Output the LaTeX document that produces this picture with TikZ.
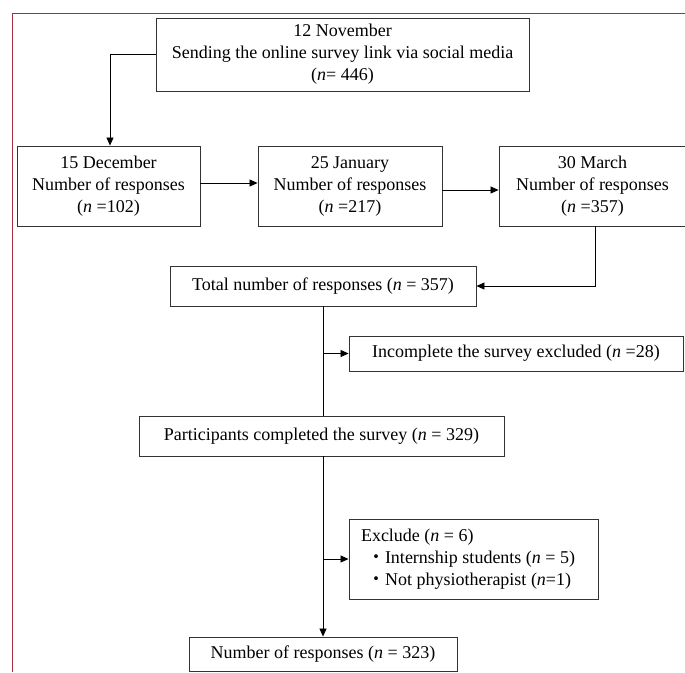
\documentclass[tikz,border=0pt]{standalone}
\usepackage{fontspec}
\setmainfont{Liberation Serif}
\newfontfamily\cjk{Noto Sans CJK JP}
\usepackage{xcolor}
\usetikzlibrary{arrows.meta,calc}
\definecolor{framered}{RGB}{170,45,60}

\begin{document}
\begin{tikzpicture}[x=1pt,y=-1pt]
  \tikzset{box/.style = {draw=black!80, line width=0.9pt, align=center, inner sep=0pt, font=\fontsize{18}{22}\selectfont}}
  \tikzset{edge/.style = {-{Triangle[length=8pt,width=7pt]}, line width=0.8pt}}
  \tikzset{line/.style = {line width=0.8pt}}

  \useasboundingbox (0,0) rectangle (685,672);
  \draw[framered, line width=1pt] (12,672) -- (12,13) -- (685,13);

  % boxes
  \node[box, minimum width=373, minimum height=73] (nov) at (342.5,54.5)
    {12 November\\Sending the online survey link via social media\\(\textit{n}= 446)};
  \foreach \nm/\x/\w/\dt/\cnt in {dec/108.5/183/15 December/102, jan/350/184/25 January/217, mar/592.5/187/30 March/357}
  {
    \node[box, minimum width=\w, minimum height=80] (\nm) at (\x,186) {\dt\\Number of responses\\(\textit{n} =\cnt)};
  }
  \node[box, minimum width=306, minimum height=40] (total) at (323,286) {Total number of responses (\textit{n} = 357)};
  \node[box, minimum width=334, minimum height=35] (incompl) at (516,353.5) {Incomplete the survey excluded (\textit{n} =28)};
  \node[box, minimum width=365, minimum height=40] (partic) at (321.5,436) {Participants completed the survey (\textit{n} = 329)};
  \node[box, minimum width=249, minimum height=80, text width=225, align=flush left] (excl) at (473.5,559)
    {Exclude (\textit{n} = 6)\\\hspace*{6pt}{\cjk ・}Internship students (\textit{n} = 5)\\\hspace*{6pt}{\cjk ・}Not physiotherapist (\textit{n}=1)};
  \node[box, minimum width=268, minimum height=34] (final) at (323,654) {Number of responses (\textit{n} = 323)};

  % connectors
  \draw[edge] (nov.west) -| ([xshift=1.5pt]dec.north);
  \draw[edge] ([yshift=3pt]dec.east) -- ([yshift=3pt]dec.east -| jan.west);
  \draw[edge] ([yshift=-4pt]jan.east) -- ([yshift=-4pt]jan.east -| mar.west);
  \draw[edge] ([xshift=3pt]mar.south) |- (total.east);
  \draw[line] (total.south) -- (total.south |- partic.north);
  \draw[edge] (total.south |- incompl.west) -- (incompl.west);
  \draw[edge] (total.south |- partic.south) -- (total.south |- final.north);
  \draw[edge] (total.south |- excl.west) -- (excl.west);
\end{tikzpicture}
\end{document}
